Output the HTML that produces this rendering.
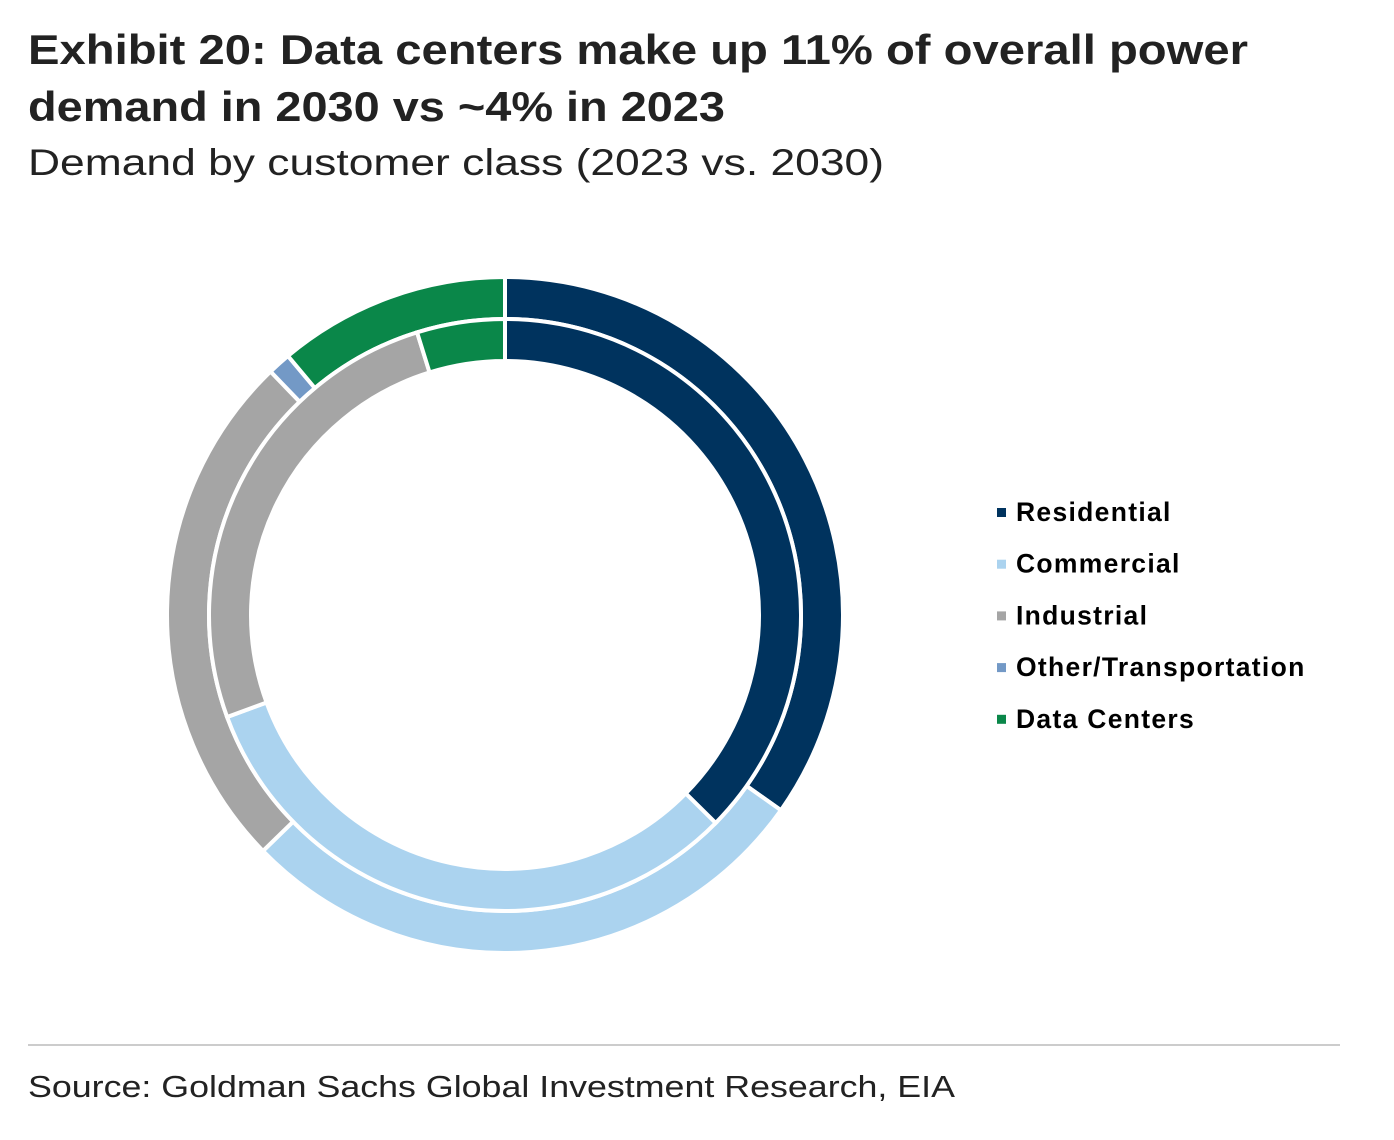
<!DOCTYPE html>
<html><head><meta charset="utf-8"><style>
html,body{margin:0;padding:0;background:#fff;}
svg{display:block;}
text{font-family:"Liberation Sans",sans-serif;}
</style></head><body>
<svg id="chart" width="1394" height="1140" viewBox="0 0 1394 1140">
<text x="28" y="64" font-size="42" font-weight="bold" fill="#222" textLength="1220" lengthAdjust="spacingAndGlyphs">Exhibit 20: Data centers make up 11% of overall power</text>
<text x="28" y="121" font-size="42" font-weight="bold" fill="#222" textLength="697" lengthAdjust="spacingAndGlyphs">demand in 2030 vs ~4% in 2023</text>
<text x="28" y="175" font-size="37" fill="#222" textLength="856" lengthAdjust="spacingAndGlyphs">Demand by customer class (2023 vs. 2030)</text>
<g id="rings"></g>
<g id="legend"></g>
<line x1="28" y1="1045" x2="1340" y2="1045" stroke="#bbb" stroke-width="1.5"/>
<text x="28" y="1097" font-size="31" fill="#222" textLength="927" lengthAdjust="spacingAndGlyphs">Source: Goldman Sachs Global Investment Research, EIA</text>
</svg>
<script>
const categories = ["Residential","Commercial","Industrial","Other/Transportation","Data Centers"];
const values2023 = [37.4, 32.0, 25.8, 0.0, 4.8];
const values2030 = [34.8, 27.9, 25.1, 1.1, 11.1];
const colors = ["#00335e","#abd3ef","#a5a5a5","#7399c6","#0a8749"];
const NS="http://www.w3.org/2000/svg";
const cx=505, cy=615;
function pt(r,a){return [cx+r*Math.sin(a), cy-r*Math.cos(a)];}
function arc(r0,r1,a0,a1){
  const large=(a1-a0)>Math.PI?1:0;
  const p1=pt(r1,a0),p2=pt(r1,a1),p3=pt(r0,a1),p4=pt(r0,a0);
  return `M${p1[0]},${p1[1]}A${r1},${r1} 0 ${large} 1 ${p2[0]},${p2[1]}L${p3[0]},${p3[1]}A${r0},${r0} 0 ${large} 0 ${p4[0]},${p4[1]}Z`;
}
const rings=document.getElementById('rings');
function drawRing(vals,r0,r1,label){
  const tot=vals.reduce((a,b)=>a+b,0);
  let acc=0;
  vals.forEach((v,i)=>{
    const a0=acc/tot*2*Math.PI; acc+=v; const a1=acc/tot*2*Math.PI;
    if(v<=0) return;
    const p=document.createElementNS(NS,'path');
    p.setAttribute('d',arc(r0,r1,a0,a1));
    p.setAttribute('fill',colors[i]);
    p.setAttribute('stroke','#fff');
    p.setAttribute('stroke-width','4');
    
    
    rings.appendChild(p);
  });
}
drawRing(values2030,296,338,'2030');
drawRing(values2023,254,296,'2023');
const lg=document.getElementById('legend');
categories.forEach((c,i)=>{
  const y=512+i*51.7;
  const r=document.createElementNS(NS,'rect');
  r.setAttribute('x',997);r.setAttribute('y',y-4);r.setAttribute('width',9);r.setAttribute('height',9);
  r.setAttribute('fill',colors[i]);
  
  
  lg.appendChild(r);
  const t=document.createElementNS(NS,'text');
  t.setAttribute('x',1016);t.setAttribute('y',y+9);
  t.setAttribute('font-size','26.5');t.setAttribute('font-weight','bold');t.setAttribute('fill','#000');
  t.setAttribute('letter-spacing','1.3');
  t.textContent=c;
  
  
  lg.appendChild(t);
});
</script>
</body></html>
